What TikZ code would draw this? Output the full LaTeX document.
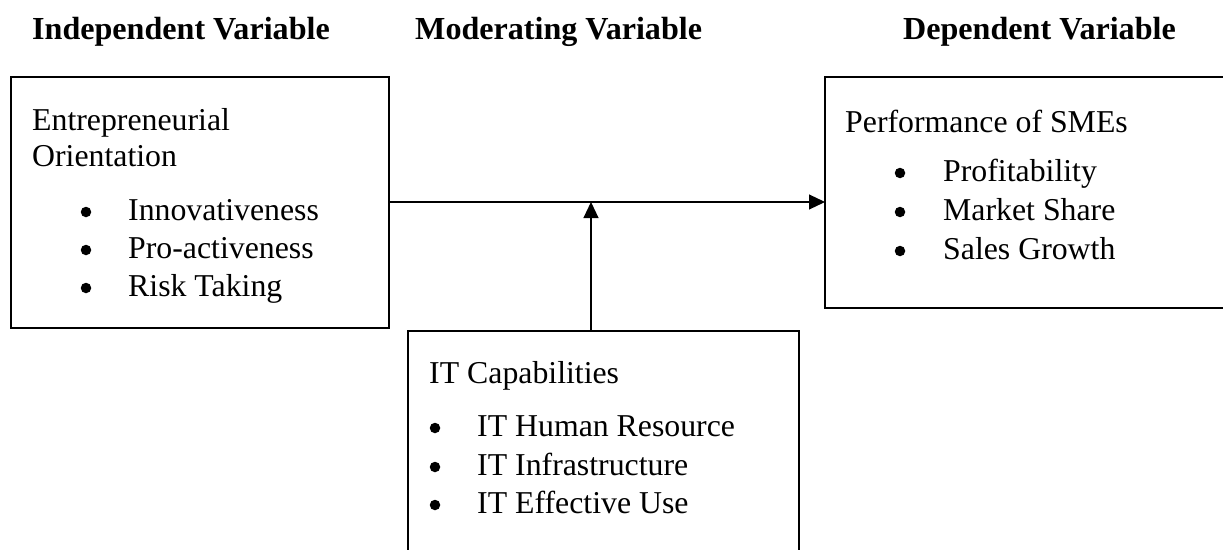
\documentclass[tikz,border=0pt]{standalone}
\usepackage{fontspec}
\setmainfont{Liberation Serif}
\usetikzlibrary{arrows.meta}
\begin{document}
\begin{tikzpicture}[x=1pt,y=-1pt,
  box/.style={draw, line width=1.7pt, inner sep=0pt, outer sep=0pt},
  txt/.style={anchor=base west, inner sep=0pt, font=\fontsize{31.8}{38}\selectfont},
  bul/.style={circle, fill, inner sep=0pt, minimum size=10.5pt},
  head/.style={anchor=base west, inner sep=0pt, font=\bfseries\fontsize{32.1}{38}\selectfont},
  conn/.style={line width=1.1pt, -{Triangle[length=16pt,width=15pt]}}]
\useasboundingbox (0,0) rectangle (1223,549);
\clip (0,0) rectangle (1223,549);
% headings
\node[head] (h1) at (32,39) {Independent Variable};
\node[head] (h2) at (415,39) {Moderating Variable};
\node[head] (h3) at (903,39) {Dependent Variable};
% boxes
\node[box, minimum width=378pt, minimum height=251pt] (L) at (200,202.5) {};
\node[box, minimum width=420pt, minimum height=231pt] (R) at (1035,192.5) {};
\node[box, line width=1.4pt, minimum width=391pt, minimum height=250pt] (IT) at (603.5,456) {};
% left box text
\node[txt] (l1) at (32,130) {Entrepreneurial};
\node[txt] (l2) at (32,166) {Orientation};
\node[bul] (lb1) at (86,212) {};
\node[bul] (lb2) at (86,250) {};
\node[bul] (lb3) at (86,288) {};
\node[txt] (l3) at (128,220) {Innovativeness};
\node[txt] (l4) at (128,258) {Pro-activeness};
\node[txt] (l5) at (128,296) {Risk Taking};
% right box text
\node[txt] (r1) at (845,132) {Performance of SMEs};
\node[bul] (rb1) at (900,173) {};
\node[bul] (rb2) at (900,212) {};
\node[bul] (rb3) at (900,251) {};
\node[txt] (r2) at (943,181) {Profitability};
\node[txt] (r3) at (943,220) {Market Share};
\node[txt] (r4) at (943,259) {Sales Growth};
% IT box text
\node[txt] (i1) at (429,383) {IT Capabilities};
\node[bul] (ib1) at (435,428) {};
\node[bul] (ib2) at (435,467) {};
\node[bul] (ib3) at (435,505) {};
\node[txt] (i2) at (477,436) {IT Human Resource};
\node[txt] (i3) at (477,475) {IT Infrastructure};
\node[txt] (i4) at (477,513) {IT Effective Use};
% connectors
\coordinate (m) at (591,202);
\draw[conn] (L.east |- m) -- (R.west |- m);
\draw[conn] (IT.north -| m) -- (m);
\end{tikzpicture}
\end{document}
